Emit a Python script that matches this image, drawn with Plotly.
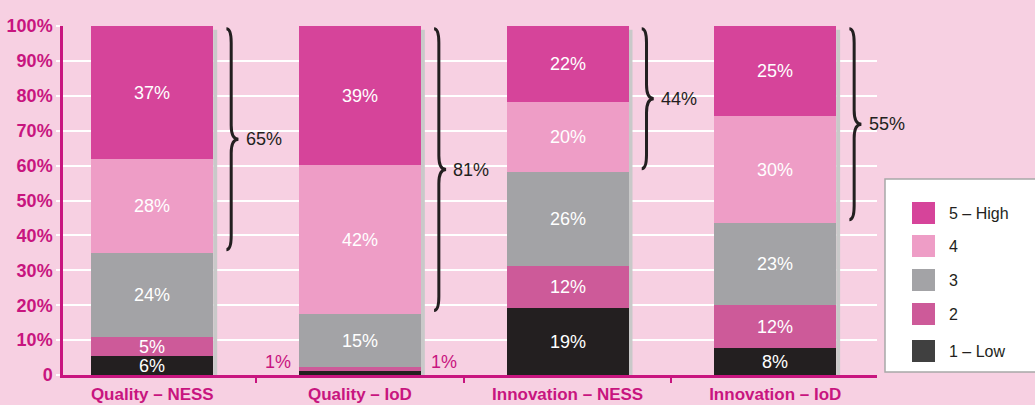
import plotly.graph_objects as go

# ---------------- data ----------------
categories = ["Quality – NESS", "Quality – IoD", "Innovation – NESS", "Innovation – IoD"]
series_names = ["1 – Low", "2", "3", "4", "5 – High"]

low_vals = [5.5, 1.2, 19.2, 7.8]
two_vals = [5.5, 1.2, 12.0, 12.2]
three_vals = [24.0, 15.2, 27.0, 23.6]
four_vals = [27.0, 42.6, 20.0, 30.7]
high_vals = [38.0, 39.8, 21.8, 25.7]

low_lbl = ["6%", "", "19%", "8%"]
two_lbl = ["5%", "", "12%", "12%"]
three_lbl = ["24%", "15%", "26%", "23%"]
four_lbl = ["28%", "42%", "20%", "30%"]
high_lbl = ["37%", "39%", "22%", "25%"]

top_two_totals = ["65%", "81%", "44%", "55%"]
small_outside_lbl = ["1%", "1%"]  # Quality – IoD, levels 1 and 2

y_tickvals = [0, 10, 20, 30, 40, 50, 60, 70, 80, 90, 100]
y_ticktext = ["0", "10%", "20%", "30%", "40%", "50%", "60%", "70%", "80%", "90%", "100%"]

# ---------------- style ----------------
BG = "#f7d0e2"
MAG = "#c8157f"
DARK = "#231f20"
FONT = "Liberation Sans, Arial, sans-serif"
colors = ["#231f20", "#cd5a99", "#a3a3a6", "#ee9dc6", "#d6449a"]
BAR_W = 0.587

W, H = 1035, 405
ML, MR, MT, MB = 63, 158, 26, 30
PW, PH = W - ML - MR, H - MT - MB


def px(x):
    return (x - ML) / PW


def py(y):
    return (H - MB - y) / PH


xpos = list(range(len(categories)))
all_vals = [low_vals, two_vals, three_vals, four_vals, high_vals]
all_lbls = [low_lbl, two_lbl, three_lbl, four_lbl, high_lbl]

fig = go.Figure()
for name, vals, lbls, col in zip(series_names, all_vals, all_lbls, colors):
    fig.add_bar(
        x=xpos, y=vals, name=name, text=lbls,
        marker=dict(color=col, line=dict(width=0)),
        width=BAR_W,
        textposition="inside", insidetextanchor="middle",
        constraintext="none",
        textfont=dict(family=FONT, size=18, color="white"),
        showlegend=False, hoverinfo="skip",
    )

shapes = []
annotations = []

# bar shadows and braces
for i in xpos:
    shapes.append(dict(type="rect", xref="x", yref="y",
                       x0=i + BAR_W / 2, x1=i + BAR_W / 2 + 0.019, y0=0, y1=98.9,
                       fillcolor="#c9c9c9", line=dict(width=0), layer="between"))
    seg4_bottom = low_vals[i] + two_vals[i] + three_vals[i]
    yt, yb = 99.2, seg4_bottom + 0.9
    ym = (yt + yb) / 2
    r = 4.0
    xl, xv, xt = i + 0.357, i + 0.38, i + 0.415
    path = (f"M {xl},{yt} Q {xv},{yt} {xv},{yt - r} L {xv},{ym + r} "
            f"Q {xv},{ym} {xt},{ym} Q {xv},{ym} {xv},{ym - r} "
            f"L {xv},{yb + r} Q {xv},{yb} {xl},{yb}")
    shapes.append(dict(type="path", xref="x", yref="y", path=path,
                       line=dict(color=DARK, width=3), layer="above"))
    annotations.append(dict(x=i + 0.44, y=ym, xref="x", yref="y", text=top_two_totals[i],
                            showarrow=False, xanchor="left", yanchor="middle",
                            font=dict(family=FONT, size=18, color=DARK)))

# outside small labels for Quality – IoD
annotations.append(dict(x=1 - BAR_W / 2 - 0.03, y=3.7, xref="x", yref="y", text=small_outside_lbl[0],
                        showarrow=False, xanchor="right", yanchor="middle",
                        font=dict(family=FONT, size=18, color=MAG)))
annotations.append(dict(x=1 + BAR_W / 2 + 0.04, y=3.7, xref="x", yref="y", text=small_outside_lbl[1],
                        showarrow=False, xanchor="left", yanchor="middle",
                        font=dict(family=FONT, size=18, color=MAG)))

# custom legend
shapes.append(dict(type="rect", xref="paper", yref="paper",
                   x0=px(885), x1=px(1045), y0=py(372), y1=py(179),
                   fillcolor="white", line=dict(color="#a8a8a8", width=1.5), layer="above"))
row_centers = [351, 314, 280, 246, 213]  # for 1 – Low ... 5 – High
for name, col, yc in zip(series_names, colors, row_centers):
    leg_col = "#404040" if col == DARK else col
    shapes.append(dict(type="rect", xref="paper", yref="paper",
                       x0=px(912), x1=px(935), y0=py(yc + 11), y1=py(yc - 11),
                       fillcolor=leg_col, line=dict(width=0), layer="above"))
    annotations.append(dict(x=px(947), y=py(yc), xref="paper", yref="paper", text=name,
                            showarrow=False, xanchor="left", yanchor="middle",
                            font=dict(family=FONT, size=16, color=DARK)))

fig.update_layout(
    width=W, height=H,
    barmode="stack",
    bargap=0,
    paper_bgcolor=BG, plot_bgcolor=BG,
    margin=dict(l=ML, r=MR, t=MT, b=MB, autoexpand=False),
    shapes=shapes, annotations=annotations,
    showlegend=False,
    xaxis=dict(
        range=[-0.43, 3.49], tickmode="array", tickvals=xpos, ticktext=categories,
        ticks="outside", ticklen=2, tickcolor="rgba(0,0,0,0)",
        tickfont=dict(family=FONT, size=17, color=MAG, weight="bold"),
        showline=True, linecolor=MAG, linewidth=2.5, automargin=False,
        showgrid=False, zeroline=False, fixedrange=True,
        minor=dict(tickmode="array", tickvals=[0.5, 1.5, 2.5, 3.5], ticks="outside",
                   ticklen=5, tickcolor=MAG, tickwidth=1.5, showgrid=False),
    ),
    yaxis=dict(
        range=[0, 100], tickmode="array", tickvals=y_tickvals, ticktext=y_ticktext,
        ticks="outside", ticklen=4, tickcolor="white", tickwidth=2,
        showgrid=True, gridcolor="white", gridwidth=1.5,
        showline=True, linecolor=MAG, linewidth=2.5, zeroline=False,
        tickfont=dict(family=FONT, size=18, color=MAG, weight="bold"),
        ticklabelstandoff=0, fixedrange=True, automargin=False,
    ),
)

fig.write_html("out.html", config={"displayModeBar": False})
